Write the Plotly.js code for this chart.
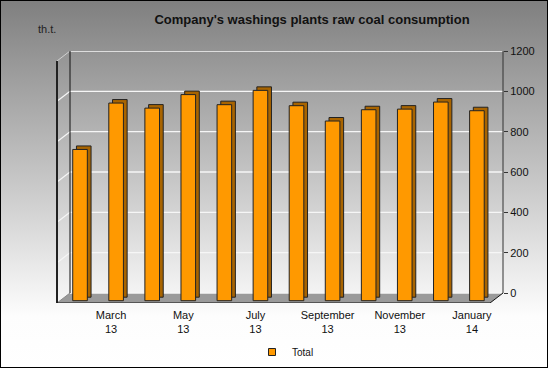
<!DOCTYPE html>
<html>
<head>
<meta charset="utf-8">
<script src="https://cdn.plot.ly/plotly-3.0.1.min.js"></script>
<style>
  html, body { margin: 0; padding: 0; }
  #wrap { position: relative; width: 548px; height: 368px;
    background: linear-gradient(to bottom, #7f7f7f 0%, #fdfdfd 86%, #ffffff 100%); }
  #chart { position: absolute; left: 0; top: 0; width: 548px; height: 368px; }
  #frame { position: absolute; left: 0; top: 0; width: 548px; height: 368px;
    box-sizing: border-box; border: 1px solid #000; pointer-events: none; }
</style>
</head>
<body>
<div id="wrap"><div id="chart"></div><div id="frame"></div></div>
<script>
// ---- data ----
const categories = ['February 13', 'March 13', 'April 13', 'May 13', 'June 13', 'July 13',
                    'August 13', 'September 13', 'October 13', 'November 13', 'December 13', 'January 14'];
const totalValues = [750, 980, 955, 1022, 972, 1043, 967, 891, 947, 950, 985, 942];
const xTickCats = ['March 13', 'May 13', 'July 13', 'September 13', 'November 13', 'January 14'];
const xTickText = ['March<br>13', 'May<br>13', 'July<br>13', 'September<br>13', 'November<br>13', 'January<br>14'];
const yTicks = [0, 200, 400, 600, 800, 1000, 1200];
const seriesName = 'Total';

// ---- 3D-look geometry (styling) ----
const FONT = 'Liberation Sans, Arial, sans-serif';
const FLOOR_DEPTH = 49.6;    // floor depth in value units
const FRONT_SHIFT = -38.2;   // front face baseline shift
const BACK_SHIFT = -20.8;    // back face baseline shift
const WALL = 13 / 446;       // side wall width (paper)
const FRONT_END = 433 / 446; // front floor edge end (paper)
const BAR_W = 0.405;
const N = categories.length;

const front = {
  type: 'bar', x: categories, y: totalValues, base: FRONT_SHIFT,
  width: BAR_W, offset: -0.064, name: seriesName, showlegend: false,
  marker: { color: '#FF9900', line: { color: '#222', width: 1 } },
  hoverinfo: 'x+y'
};
const back = {
  type: 'bar', x: categories, y: totalValues, base: BACK_SHIFT,
  width: BAR_W, offset: 0.039, name: seriesName + ' side', showlegend: false,
  marker: { color: '#A86400', line: { color: '#222', width: 1 } },
  hoverinfo: 'skip'
};
const legendItem = {
  type: 'scatter', mode: 'markers', x: [null], y: [null], name: seriesName,
  marker: { symbol: 'square', size: 7, color: '#FF9900', line: { color: '#222', width: 1 } }
};

const shapes = [];
// floor
shapes.push({ type: 'path', xref: 'paper', yref: 'y', layer: 'below',
  path: `M0,${-FLOOR_DEPTH} L${FRONT_END},${-FLOOR_DEPTH} L1,0 L${WALL},0 Z`,
  fillcolor: '#9a9a9a', line: { width: 0 } });
// back wall gridlines + side wall gridlines
yTicks.forEach(v => {
  shapes.push({ type: 'line', xref: 'paper', yref: 'y', layer: 'below',
    x0: WALL, x1: 1, y0: v, y1: v, line: { color: '#f6f6f6', width: 1.3 } });
  if (v > 0 && v < 1200) {
    shapes.push({ type: 'line', xref: 'paper', yref: 'y', layer: 'below',
      x0: 0, x1: WALL, y0: v - FLOOR_DEPTH, y1: v, line: { color: '#f6f6f6', width: 1.2 } });
  }
});
const yMax = yTicks[yTicks.length - 1];
// top diagonal of side wall
shapes.push({ type: 'line', xref: 'paper', yref: 'y', layer: 'above',
  x0: 0, x1: WALL, y0: yMax - FLOOR_DEPTH, y1: yMax, line: { color: '#d0d0d0', width: 1 } });
// floor left diagonal
shapes.push({ type: 'line', xref: 'paper', yref: 'y', layer: 'above',
  x0: 0, x1: WALL, y0: -FLOOR_DEPTH, y1: 0, line: { color: '#8a8a8a', width: 1 } });
// side wall outer vertical edge
shapes.push({ type: 'line', xref: 'paper', yref: 'y', layer: 'above',
  x0: 0, x1: 0, y0: -FLOOR_DEPTH, y1: yMax - FLOOR_DEPTH, line: { color: '#222', width: 2 } });
// back wall left edge
shapes.push({ type: 'line', xref: 'paper', yref: 'y', layer: 'above',
  x0: WALL, x1: WALL, y0: 0, y1: yMax, line: { color: '#111', width: 1 } });
// floor front edge
shapes.push({ type: 'line', xref: 'paper', yref: 'y', layer: 'above',
  x0: 0, x1: FRONT_END, y0: -FLOOR_DEPTH, y1: -FLOOR_DEPTH, line: { color: '#111', width: 1 } });
// floor right edge
shapes.push({ type: 'line', xref: 'paper', yref: 'y', layer: 'above',
  x0: FRONT_END, x1: 1, y0: -FLOOR_DEPTH, y1: 0, line: { color: '#111', width: 1 } });
// value axis line
shapes.push({ type: 'line', xref: 'paper', yref: 'y', layer: 'above',
  x0: 1, x1: 1, y0: 0, y1: yMax, line: { color: '#333', width: 1 } });

const boundaries = categories.map((c, i) => i - 0.5).concat([N - 0.5]);
const xRange = [-0.5, -0.5 + 446 / 36.08];

const layout = {
  width: 548, height: 368,
  margin: { l: 57, r: 45, t: 51, b: 65, pad: 0 },
  paper_bgcolor: 'rgba(0,0,0,0)', plot_bgcolor: 'rgba(0,0,0,0)',
  font: { family: FONT, size: 11, color: '#111' },
  barmode: 'overlay',
  title: { text: "Company's washings plants raw coal consumption",
    font: { family: FONT, size: 13, color: '#111', weight: 'bold' },
    x: 312 / 548, xanchor: 'center', xref: 'container',
    y: 1 - 19.5 / 368, yanchor: 'middle', yref: 'container' },
  xaxis: { type: 'category', categoryarray: categories, range: xRange,
    tickvals: xTickCats, ticktext: xTickText, ticks: '', showgrid: false,
    showline: false, zeroline: false, fixedrange: true,
    tickfont: { family: FONT, size: 11, color: '#111' }, ticklabelstandoff: 4 },
  xaxis2: { overlaying: 'x', anchor: 'y', type: 'linear', range: xRange,
    tickvals: boundaries, ticks: 'outside', ticklen: 4, tickcolor: '#333',
    showticklabels: false, showgrid: false, showline: false, zeroline: false },
  yaxis: { side: 'right', range: [-FLOOR_DEPTH, yMax], tickvals: yTicks,
    ticks: 'outside', ticklen: 4, tickcolor: '#333', showgrid: false,
    showline: false, zeroline: false, fixedrange: true,
    tickfont: { family: FONT, size: 11, color: '#111' } },
  showlegend: true,
  legend: { orientation: 'h', xref: 'container', yref: 'container',
    x: 252 / 548, xanchor: 'left', y: 1 - 352 / 368, yanchor: 'middle',
    bgcolor: 'rgba(0,0,0,0)', font: { family: FONT, size: 10, color: '#111' } },
  annotations: [{ text: 'th.t.', xref: 'paper', yref: 'paper', showarrow: false,
    x: -21 / 446, y: 1 + 22 / 252, xanchor: 'left', yanchor: 'middle',
    font: { family: FONT, size: 11, color: '#222' } }],
  shapes: shapes
};

Plotly.newPlot('chart', [back, front, legendItem], layout, { displayModeBar: false, staticPlot: true });
</script>
</body>
</html>
